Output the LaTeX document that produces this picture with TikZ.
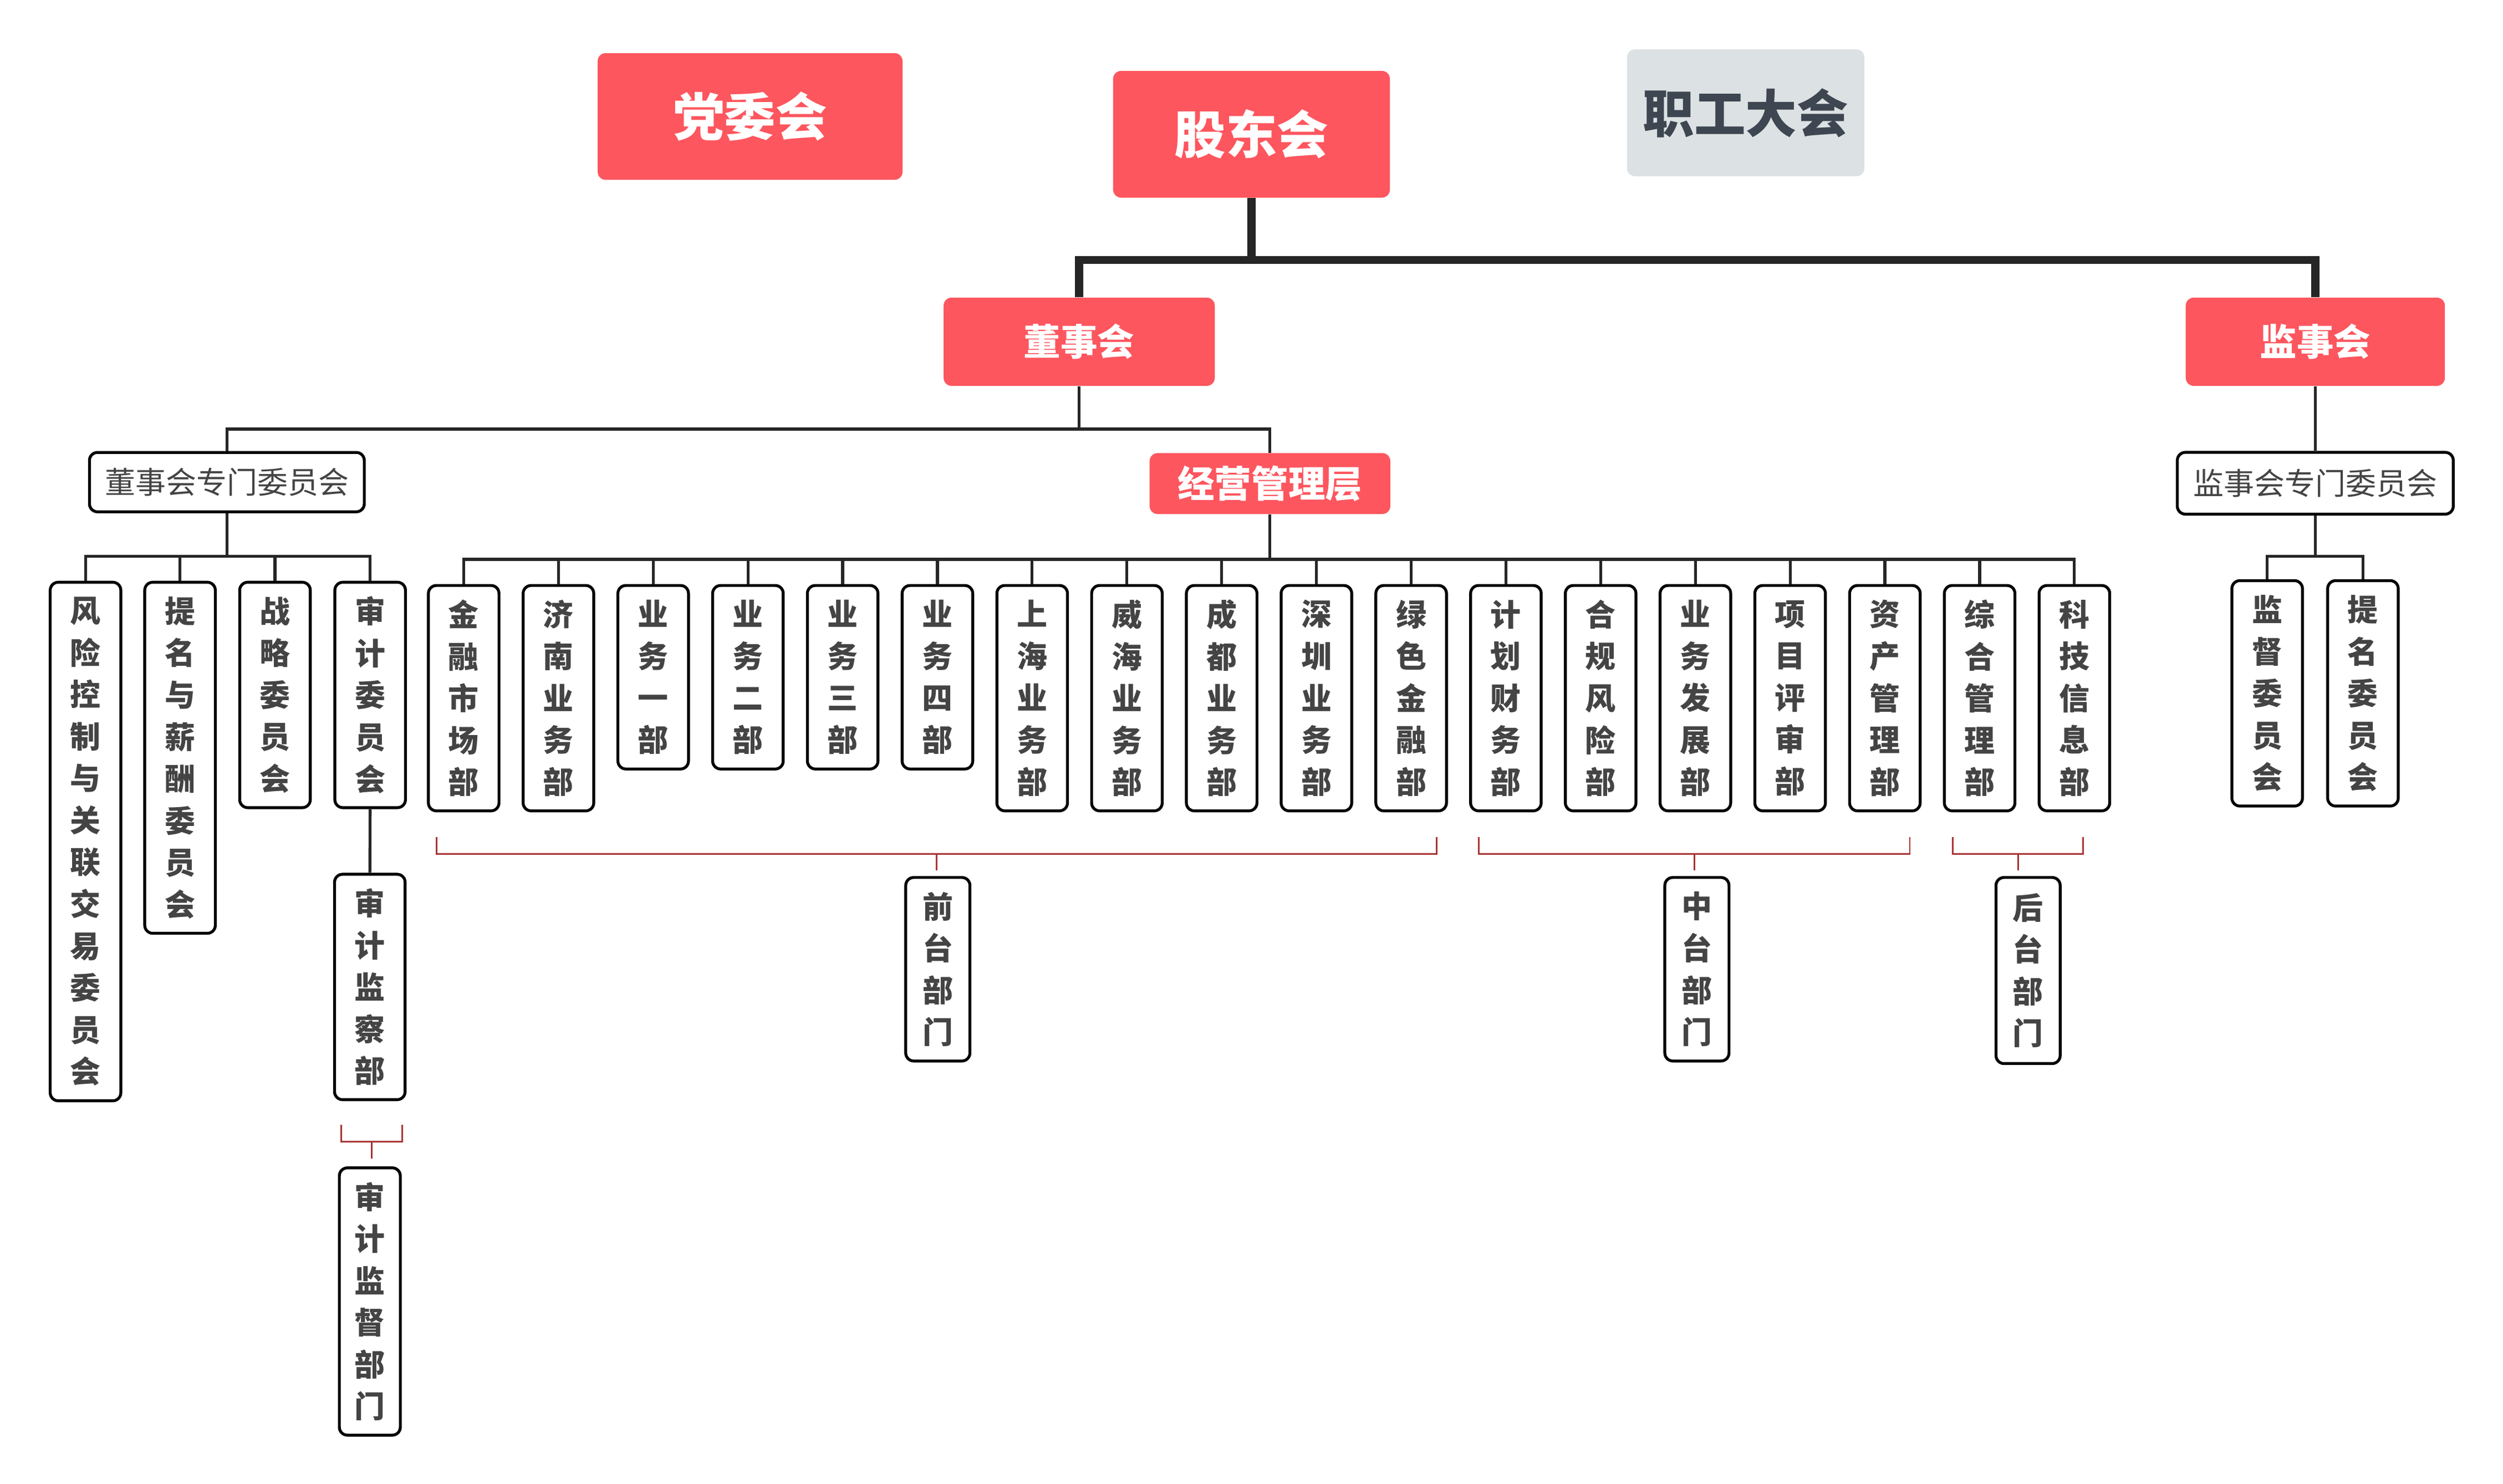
\documentclass[tikz,border=0pt]{standalone}
\usepackage{fontspec}
\setmainfont{Noto Sans CJK SC}
\definecolor{hred}{HTML}{FD565E}
\definecolor{hgray}{HTML}{DCE1E3}
\definecolor{htxt}{HTML}{444444}
\definecolor{gtxt}{HTML}{3E4651}
\definecolor{lnc}{HTML}{262626}
\definecolor{brk}{HTML}{A93434}
\tikzset{
  redbox/.style={fill=hred, text=white, rounded corners=5pt, inner sep=0pt, font=\bfseries},
  graybox/.style={fill=hgray, text=gtxt, rounded corners=5pt, inner sep=0pt, font=\bfseries\fontsize{32}{38}\selectfont},
  bigtxt/.style={font=\bfseries\fontsize{32}{38}\selectfont},
  midtxt/.style={font=\bfseries\fontsize{23}{28}\selectfont},
  whitebox/.style={draw=black, line width=1.8pt, fill=white, rounded corners=5pt, inner sep=0pt, text=htxt, font=\fontsize{19}{24}\selectfont},
  vbox/.style={draw=black, line width=1.8pt, fill=white, rounded corners=5pt, inner sep=0pt, minimum width=44pt, align=center, text=htxt, anchor=north, font=\bfseries\fontsize{19}{26.1}\selectfont},
  vboxn/.style={vbox, minimum width=40pt},
  thickln/.style={draw=lnc, line width=5pt},
  thinln/.style={draw=lnc, line width=1.8pt},
  brkln/.style={draw=brk, line width=1pt}
}
\begin{document}
\begin{tikzpicture}[x=1pt, y=-1pt]
\fill[white] (0,0) rectangle (1560,924.9);
\useasboundingbox (0,0) rectangle (1560,924.9);

% top level
\node[redbox, bigtxt, minimum width=190pt, minimum height=79pt] (dangwei) at (467.5,72.6) {党委会};
\node[redbox, bigtxt, minimum width=172.5pt, minimum height=79pt] (gudong) at (780,83.7) {股东会};
\node[graybox, minimum width=148pt, minimum height=79pt] (zhigong) at (1088,70.3) {职工大会};

\node[redbox, midtxt, minimum width=169pt, minimum height=55pt] (dongshi) at (672.6,213) {董事会};
\node[redbox, midtxt, minimum width=161.5pt, minimum height=55pt] (jianshi) at (1443,213) {监事会};

\node[whitebox, minimum width=171.3pt, minimum height=37pt] (dszm) at (141.4,300.5) {董事会专门委员会};
\node[redbox, midtxt, minimum width=150pt, minimum height=38pt] (jingying) at (791.5,301.4) {经营管理层};
\node[whitebox, minimum width=172pt, minimum height=38.5pt] (jszm) at (1443,301.2) {监事会专门委员会};

% thick connectors
\coordinate (bus0) at (780,162);
\draw[thickln] (gudong.south) -- (bus0);
\draw[thickln] (dongshi.north) -- (dongshi.north |- bus0) -- (jianshi.north |- bus0) -- (jianshi.north);

% board level
\coordinate (bus1) at (672.6,267.4);
\draw[thinln] (dongshi.south) -- (bus1);
\draw[thinln] (dszm.north) -- (dszm.north |- bus1) -- (jingying.north |- bus1) -- (jingying.north);
\draw[thinln] (jianshi.south) -- (jszm.north);

% board committees
\node[vbox, minimum height=323.2pt] (c1) at (53.3,362) {风\\险\\控\\制\\与\\关\\联\\交\\易\\委\\员\\会};
\node[vbox, minimum height=218.8pt] (c2) at (112.2,362) {提\\名\\与\\薪\\酬\\委\\员\\会};
\node[vbox, minimum height=140.5pt] (c3) at (171.4,362) {战\\略\\委\\员\\会};
\node[vbox, minimum height=140.5pt] (c4) at (230.7,362) {审\\计\\委\\员\\会};
\coordinate (bus2) at (141.4,346.7);
\draw[thinln] (dszm.south) -- (bus2);
\draw[thinln] (c1.north) -- (c1.north |- bus2) -- (c4.north |- bus2) -- (c4.north);
\draw[thinln] (c2.north) -- (c2.north |- bus2);
\draw[thinln] (c3.north) -- (c3.north |- bus2);

\node[vbox, minimum height=140.5pt] (sjjc) at (230.5,544) {审\\计\\监\\察\\部};
\draw[thinln] (c4.south) -- (sjjc.north);

\coordinate (bsA) at (212.6,701);
\coordinate (bsB) at (250.6,701);
\coordinate (bsC) at (231.6,711.5);
\coordinate (bsD) at (231.6,722);
\draw[brkln] (bsA) -- (bsA |- bsC) -- (bsB |- bsC) -- (bsB);
\draw[brkln] (bsC) -- (bsD);
\node[vboxn, minimum width=38pt, minimum height=166.6pt] (sjjd) at (230.5,727) {审\\计\\监\\督\\部\\门};

% supervisory committees
\node[vbox, minimum height=140.5pt] (s1) at (1413,361) {监\\督\\委\\员\\会};
\node[vbox, minimum height=140.5pt] (s2) at (1472.7,361) {提\\名\\委\\员\\会};
\coordinate (bus3) at (1443,346.7);
\draw[thinln] (jszm.south) -- (bus3);
\draw[thinln] (s1.north) -- (s1.north |- bus3) -- (s2.north |- bus3) -- (s2.north);

% departments
\foreach \i/\t/\n in {
  1/{金\\融\\市\\场\\部}/5,
  2/{济\\南\\业\\务\\部}/5,
  3/{业\\务\\一\\部}/4,
  4/{业\\务\\二\\部}/4,
  5/{业\\务\\三\\部}/4,
  6/{业\\务\\四\\部}/4,
  7/{上\\海\\业\\务\\部}/5,
  8/{威\\海\\业\\务\\部}/5,
  9/{成\\都\\业\\务\\部}/5,
  10/{深\\圳\\业\\务\\部}/5,
  11/{绿\\色\\金\\融\\部}/5,
  12/{计\\划\\财\\务\\部}/5,
  13/{合\\规\\风\\险\\部}/5,
  14/{业\\务\\发\\展\\部}/5,
  15/{项\\目\\评\\审\\部}/5,
  16/{资\\产\\管\\理\\部}/5,
  17/{综\\合\\管\\理\\部}/5,
  18/{科\\技\\信\\息\\部}/5}
{
  \node[vbox, minimum height=\n*26.1+10] (d\i) at ({289+(\i-1)*59.05},364) {\t};
}
\coordinate (bus4) at (791.5,348.6);
\draw[thinln] (jingying.south) -- (bus4);
\draw[thinln] (d1.north) -- (d1.north |- bus4) -- (d18.north |- bus4) -- (d18.north);
\foreach \i in {2,...,17} {
  \draw[thinln] (d\i.north) -- (d\i.north |- bus4);
}

% front office bracket
\coordinate (fA) at (272,521.8);
\coordinate (fB) at (895.4,521.8);
\coordinate (fC) at (583.7,532.2);
\coordinate (fD) at (583.7,542.5);
\draw[brkln] (fA) -- (fA |- fC) -- (fB |- fC) -- (fB);
\draw[brkln] (fC) -- (fD);
\node[vboxn, minimum height=114.4pt] (qt) at (584.5,546) {前\\台\\部\\门};

% middle office bracket
\coordinate (mA) at (921.8,521.8);
\coordinate (mB) at (1190.3,521.8);
\coordinate (mC) at (1056,532.2);
\coordinate (mD) at (1056,542.5);
\draw[brkln] (mA) -- (mA |- mC) -- (mB |- mC) -- (mB);
\draw[brkln] (mC) -- (mD);
\node[vboxn, minimum height=114.4pt] (zt) at (1057.6,546) {中\\台\\部\\门};

% back office bracket
\coordinate (hA) at (1217.2,521.8);
\coordinate (hB) at (1298.2,521.8);
\coordinate (hC) at (1257.8,532.2);
\coordinate (hD) at (1257.8,542.5);
\draw[brkln] (hA) -- (hA |- hC) -- (hB |- hC) -- (hB);
\draw[brkln] (hC) -- (hD);
\node[vboxn, minimum height=116pt] (ht) at (1264,546) {后\\台\\部\\门};
\end{tikzpicture}
\end{document}
